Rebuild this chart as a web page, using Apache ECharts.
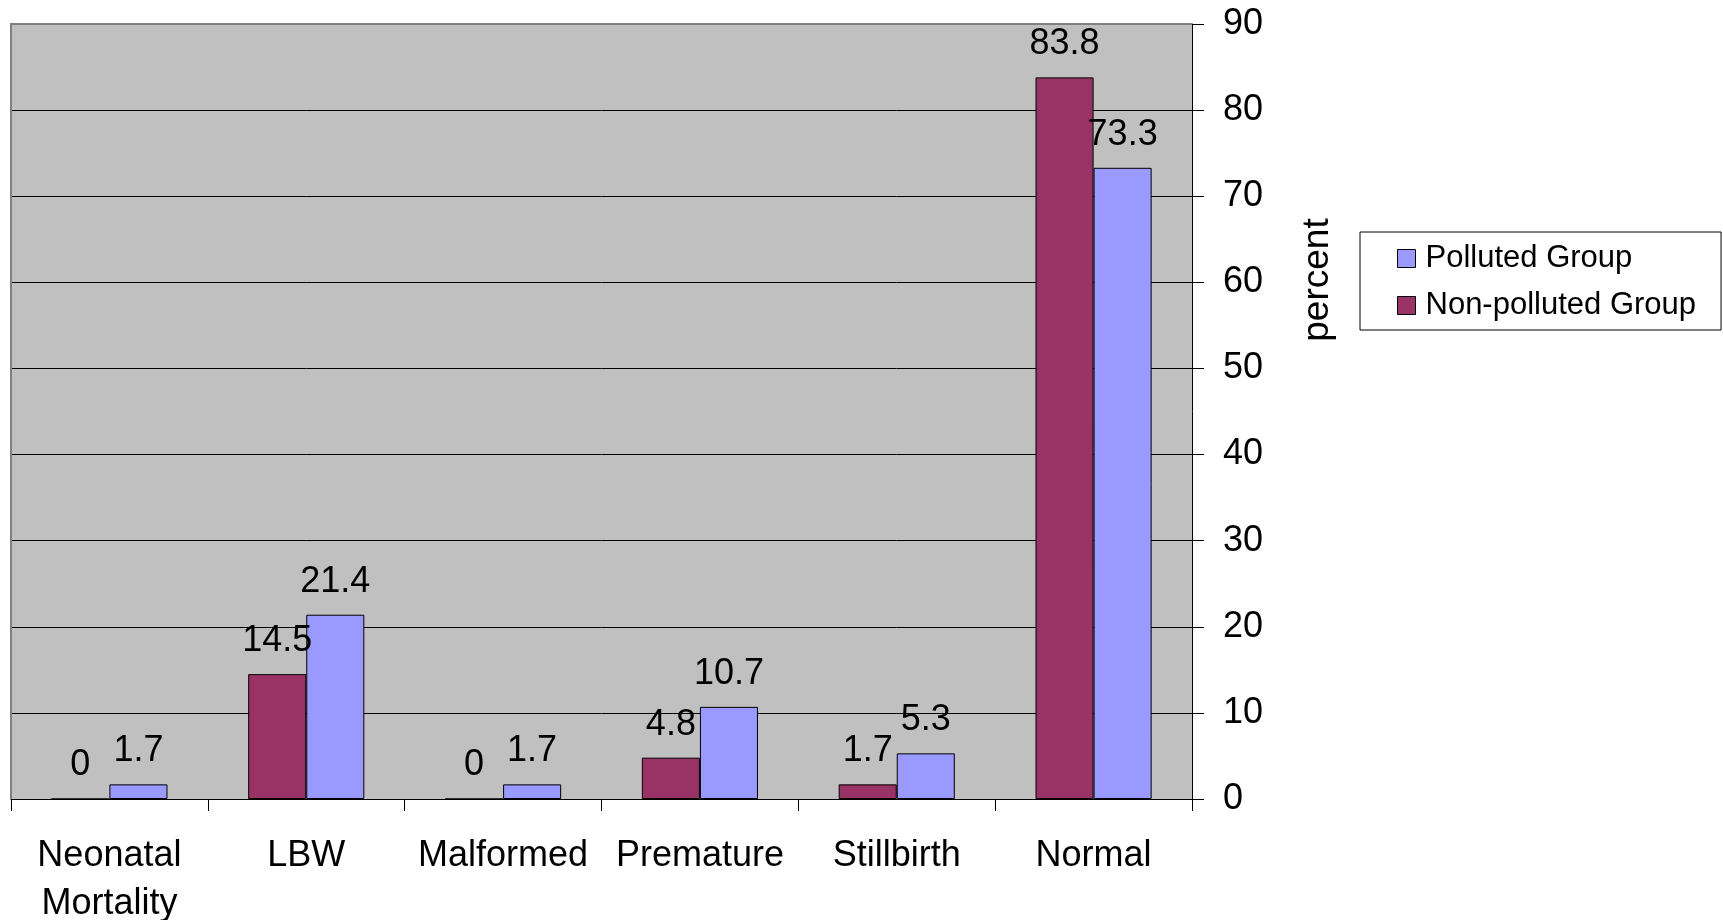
<!DOCTYPE html>
<html>
<head>
<meta charset="utf-8">
<script src="https://cdn.jsdelivr.net/npm/echarts@6/dist/echarts.min.js"></script>
<style>
html,body{margin:0;padding:0;background:#fff;}
#chart{width:1723px;height:920px;}
</style>
</head>
<body>
<div id="chart"></div>
<script>
const categories = ['Neonatal Mortality', 'LBW', 'Malformed', 'Premature', 'Stillbirth', 'Normal'];
const nonPolluted = [0, 14.5, 0, 4.8, 1.7, 83.8];
const polluted = [1.7, 21.4, 1.7, 10.7, 5.3, 73.3];
const seriesNames = ['Polluted Group', 'Non-polluted Group'];
const yAxisName = 'percent';

const FONT = "'Liberation Sans', Arial, sans-serif";
const G = {left: 11, top: 24, right: 531, bottom: 121};
const W = 1723, H = 920;

const chart = echarts.init(document.getElementById('chart'), null, {renderer: 'canvas'});

const labelCfg = {
  show: true, position: 'top', distance: 15,
  fontSize: 36, color: '#000', fontFamily: FONT
};

chart.setOption({
  animation: false,
  backgroundColor: '#fff',
  textStyle: {fontFamily: FONT},
  grid: {
    left: G.left, right: G.right, top: G.top, bottom: G.bottom,
    outerBoundsMode: 'none', containLabel: false,
    show: true, backgroundColor: '#C0C0C0', borderWidth: 0
  },
  legend: {
    orient: 'vertical',
    left: 1360, top: 232,
    data: seriesNames,
    backgroundColor: '#fff',
    borderColor: '#000', borderWidth: 1,
    padding: [11, 25, 9, 37],
    itemGap: 16,
    itemWidth: 18, itemHeight: 18,
    icon: 'rect',
    itemStyle: {borderColor: '#000', borderWidth: 1},
    textStyle: {fontSize: 31, color: '#000', fontFamily: FONT, padding: [0, 0, 0, 5]}
  },
  xAxis: {
    type: 'category',
    data: categories,
    axisLine: {lineStyle: {color: '#000', width: 1}},
    axisTick: {show: true, length: 12, lineStyle: {color: '#000'}},
    axisLabel: {
      fontSize: 36, color: '#000', fontFamily: FONT, margin: 33, lineHeight: 48,
      interval: 0,
      formatter: v => v.replace(' ', '\n')
    }
  },
  yAxis: {
    type: 'value',
    position: 'right',
    min: 0, max: 90, interval: 10,
    axisLine: {show: true, lineStyle: {color: '#000', width: 1}},
    axisTick: {show: true, length: 12, lineStyle: {color: '#000'}},
    axisLabel: {fontSize: 36, color: '#000', fontFamily: FONT, margin: 31},
    splitLine: {show: true, lineStyle: {color: '#000', width: 1}}
  },
  graphic: [
    {
      type: 'polyline', z: 100,
      shape: {points: [[G.left, H - G.bottom], [G.left, G.top], [W - G.right, G.top]]},
      style: {stroke: '#808080', lineWidth: 2, fill: null}
    },
    {
      type: 'text', z: 100,
      x: 1318, y: 280, rotation: Math.PI / 2,
      style: {text: yAxisName, fontSize: 37, fill: '#000', fontFamily: FONT,
              align: 'center', verticalAlign: 'middle'}
    }
  ],
  series: [
    {
      name: seriesNames[1], type: 'bar', data: nonPolluted,
      barGap: '0%', barCategoryGap: '41%',
      itemStyle: {color: '#993366', borderColor: '#000', borderWidth: 1},
      label: labelCfg
    },
    {
      name: seriesNames[0], type: 'bar', data: polluted,
      barGap: '0%', barCategoryGap: '41%',
      itemStyle: {color: '#9999FF', borderColor: '#000', borderWidth: 1},
      label: labelCfg
    }
  ]
});
</script>
</body>
</html>
